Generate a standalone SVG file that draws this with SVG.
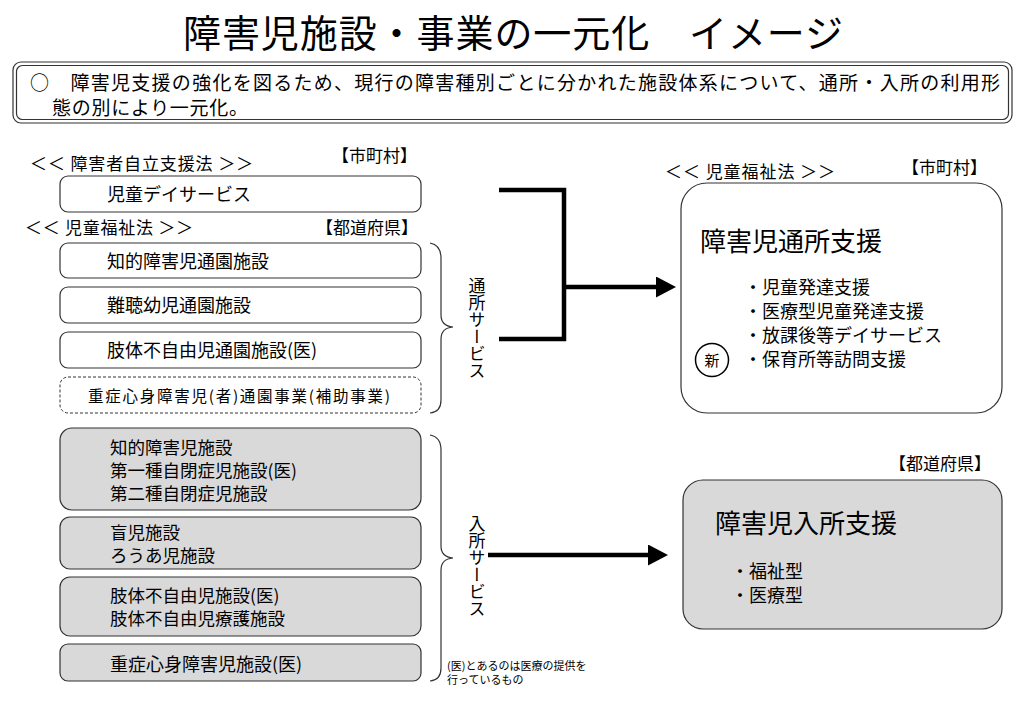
<svg xmlns="http://www.w3.org/2000/svg" width="1023" height="708" viewBox="0 0 1023 708">
<style>
text{font-family:"Noto Sans CJK JP","Noto Sans",sans-serif;fill:#000}
.box{fill:#fff;stroke:#333;stroke-width:1.2}
.gbox{fill:#d9d9d9;stroke:#333;stroke-width:1.2}
.dash{fill:#fff;stroke:#333;stroke-width:1;stroke-dasharray:3 2}
.t18{font-size:18px}
.g17{font-size:17.5px}
.lbl{font-size:17px}
.item{font-size:18px}
.brace{fill:none;stroke:#333;stroke-width:1.2}
.conn{fill:none;stroke:#000;stroke-width:4.5}
.vt{font-size:17px;writing-mode:vertical-rl;text-orientation:upright}
</style>
<defs>
<marker id="ah" markerUnits="userSpaceOnUse" markerWidth="20" markerHeight="21" refX="0" refY="10.5" orient="auto">
<path d="M0,0 L20,10.5 L0,21 z" fill="#000"/>
</marker>
</defs>
<rect width="1023" height="708" fill="#fff"/>
<g id="title">
<text x="513" y="47" font-size="38" text-anchor="middle" textLength="660">障害児施設・事業の一元化　イメージ</text>
</g>
<g id="summary">
<rect x="13" y="62" width="999" height="61" rx="8" fill="#fff" stroke="#333" stroke-width="1.2"/>
<rect x="16.5" y="65.5" width="992" height="54" rx="6" fill="none" stroke="#333" stroke-width="1.2"/>
<text font-size="19"><tspan x="30" y="90" textLength="970">○　障害児支援の強化を図るため、現行の障害種別ごとに分かれた施設体系について、通所・入所の利用形</tspan><tspan x="52" y="115" textLength="196">態の別により一元化。</tspan></text>
</g>
<g id="law-jiritsu">
<text x="30" y="170" class="lbl" textLength="223">＜＜ 障害者自立支援法 ＞＞</text>
<text x="417" y="162" class="lbl" text-anchor="end">【市町村】</text>
</g>
<g id="node-day">
<rect class="box" x="60" y="176" width="361" height="36" rx="8"/>
<text x="107" y="201" class="t18">児童デイサービス</text>
</g>
<g id="law-jido-left">
<text x="25" y="234" class="lbl" textLength="168">＜＜ 児童福祉法 ＞＞</text>
<text x="418" y="234" class="lbl" text-anchor="end">【都道府県】</text>
</g>
<g id="node-chiteki-tsuen">
<rect class="box" x="60" y="243" width="361" height="35" rx="8"/>
<text x="107" y="268" class="t18">知的障害児通園施設</text>
</g>
<g id="node-nancho">
<rect class="box" x="60" y="287" width="361" height="36" rx="8"/>
<text x="107" y="312" class="t18">難聴幼児通園施設</text>
</g>
<g id="node-shitai-tsuen">
<rect class="box" x="60" y="332" width="361" height="36" rx="8"/>
<text x="107" y="357" class="t18">肢体不自由児通園施設(医)</text>
</g>
<g id="node-jusho-tsuen">
<rect class="dash" x="60" y="377" width="361" height="36" rx="8"/>
<text x="88" y="402" font-size="15.5" textLength="302">重症心身障害児(者)通園事業(補助事業)</text>
</g>
<g id="brace-tsusho">
<path class="brace" d="M430,243 Q441,245 441,258 L441,315 Q441,326 453,327 Q441,328 441,339 L441,400 Q441,412 430,413"/>
<text x="477" y="277" class="vt">通所サービス</text>
</g>
<g id="node-chiteki">
<rect class="gbox" x="60" y="428" width="361" height="82" rx="12"/>
<text class="g17"><tspan x="110" y="454">知的障害児施設</tspan><tspan x="110" y="477">第一種自閉症児施設(医)</tspan><tspan x="110" y="500">第二種自閉症児施設</tspan></text>
</g>
<g id="node-mouji">
<rect class="gbox" x="60" y="517" width="361" height="52" rx="10"/>
<text class="g17"><tspan x="110" y="539">盲児施設</tspan><tspan x="110" y="562">ろうあ児施設</tspan></text>
</g>
<g id="node-shitai">
<rect class="gbox" x="60" y="577" width="361" height="59" rx="10"/>
<text class="g17"><tspan x="110" y="602">肢体不自由児施設(医)</tspan><tspan x="110" y="625">肢体不自由児療護施設</tspan></text>
</g>
<g id="node-jusho">
<rect class="gbox" x="60" y="644" width="361" height="37" rx="8"/>
<text x="110" y="671" class="t18">重症心身障害児施設(医)</text>
</g>
<g id="brace-nyusho">
<path class="brace" d="M430,435 Q441,437 441,450 L441,546 Q441,557 453,558 Q441,559 441,570 L441,668 Q441,680 430,681"/>
<text x="477" y="515" class="vt" font-size="18">入所サービス</text>
</g>
<g id="note">
<text font-size="11"><tspan x="447" y="670">(医)とあるのは医療の提供を</tspan><tspan x="447" y="684">行っているもの</tspan></text>
</g>
<g id="connectors">
<polyline class="conn" points="499,190 564,190 564,339 499,339"/>
<line class="conn" x1="564" y1="287" x2="656" y2="287" marker-end="url(#ah)"/>
<line class="conn" x1="488" y1="555" x2="648" y2="555" marker-end="url(#ah)"/>
</g>
<g id="law-jido-right">
<text x="665" y="178" class="lbl" textLength="170">＜＜ 児童福祉法 ＞＞</text>
<text x="987" y="174" class="lbl" text-anchor="end">【市町村】</text>
</g>
<g id="node-tsusho-shien">
<rect class="box" x="681" y="183" width="321" height="230" rx="26"/>
<text x="700" y="251" font-size="26">障害児通所支援</text>
<text class="item"><tspan x="744" y="294">・児童発達支援</tspan><tspan x="744" y="318">・医療型児童発達支援</tspan><tspan x="744" y="342">・放課後等デイサービス</tspan><tspan x="744" y="366">・保育所等訪問支援</tspan></text>
<circle cx="712" cy="360" r="16.5" fill="none" stroke="#000" stroke-width="1.5"/>
<text x="712" y="366" font-size="15" text-anchor="middle">新</text>
</g>
<g id="pref-right">
<text x="991" y="470" class="lbl" text-anchor="end">【都道府県】</text>
</g>
<g id="node-nyusho-shien">
<rect class="gbox" x="683" y="480" width="319" height="149" rx="20"/>
<text x="715" y="533" font-size="26">障害児入所支援</text>
<text class="item"><tspan x="731" y="578">・福祉型</tspan><tspan x="731" y="602">・医療型</tspan></text>
</g>
</svg>
